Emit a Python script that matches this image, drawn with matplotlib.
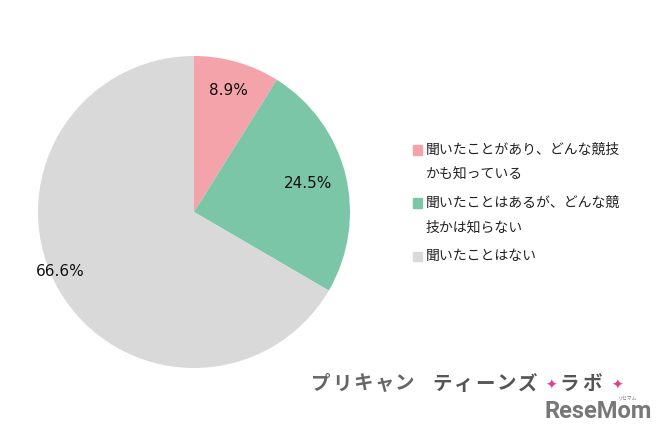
import numpy as np
import matplotlib.pyplot as plt
from matplotlib.patches import Rectangle

plt.rcParams['font.family'] = ['Noto Sans CJK JP', 'DejaVu Sans']

# survey answers (share of respondents, %)
labels = ['聞いたことがあり、どんな競技\nかも知っている',
          '聞いたことはあるが、どんな競\n技かは知らない',
          '聞いたことはない']
values = [8.9, 24.5, 66.6]
colors = ['#F5A3AB', '#7CC6A8', '#D9D9D9']
label_dist = [0.81, 0.75, 0.94]

fig = plt.figure(figsize=(6.56, 4.32), dpi=100)
ax = fig.add_axes([38 / 656, 64 / 432, 312 / 656, 312 / 432])

wedges, _ = ax.pie(values, colors=colors, startangle=90, counterclock=False,
                   wedgeprops=dict(linewidth=0))
ax.set_xlim(-1, 1)
ax.set_ylim(-1, 1)

# percentage labels along the middle of each wedge
for w, v, d in zip(wedges, values, label_dist):
    ang = np.deg2rad((w.theta1 + w.theta2) / 2)
    if v > 50:
        ang -= np.deg2rad(6)
    ax.text(d * np.cos(ang), d * np.sin(ang), f'{v}%', ha='center', va='center',
            fontsize=11, family='DejaVu Sans', color='#111111')

# legend drawn by hand so two-line labels keep the marker on the first line
y = 150
for lab, c in zip(labels, colors):
    lines = lab.split('\n')
    fig.patches.append(Rectangle((413 / 656, 1 - (y + 4.5) / 432), 9 / 656, 9 / 432,
                                 transform=fig.transFigure, color=c))
    for ln in lines:
        fig.text(426 / 656, 1 - y / 432, ln, ha='left', va='center',
                 fontsize=10, color='#222222')
        y += 25
    y += 3

# logo: spaced-out characters
def spaced(text, x0, pitch, ypix, color, size=14, weight='bold'):
    for i, ch in enumerate(text):
        fig.text((x0 + i * pitch) / 656, 1 - ypix / 432, ch, fontsize=size,
                 fontweight=weight, color=color, ha='left', va='center')

spaced('プリキャン', 311, 21, 384, '#666666')
spaced('ティーンズ', 432, 21.5, 384, '#555555')
spaced('ラボ', 559, 23, 384, '#555555')
for xs in (545, 611):
    fig.text(xs / 656, 1 - 386 / 432, '✦', fontsize=10, family='DejaVu Sans',
             color='#E0408A', va='center', ha='left')
fig.text(545 / 656, 1 - 411 / 432, 'ReseMom', fontsize=17, fontweight='bold',
         family='Roboto', color='#777777', va='center', ha='left')
fig.text(628 / 656, 1 - 398 / 432, 'リセマム', fontsize=3.5, color='#777777',
         va='center', ha='center')

fig.savefig('out.png', dpi=100)
